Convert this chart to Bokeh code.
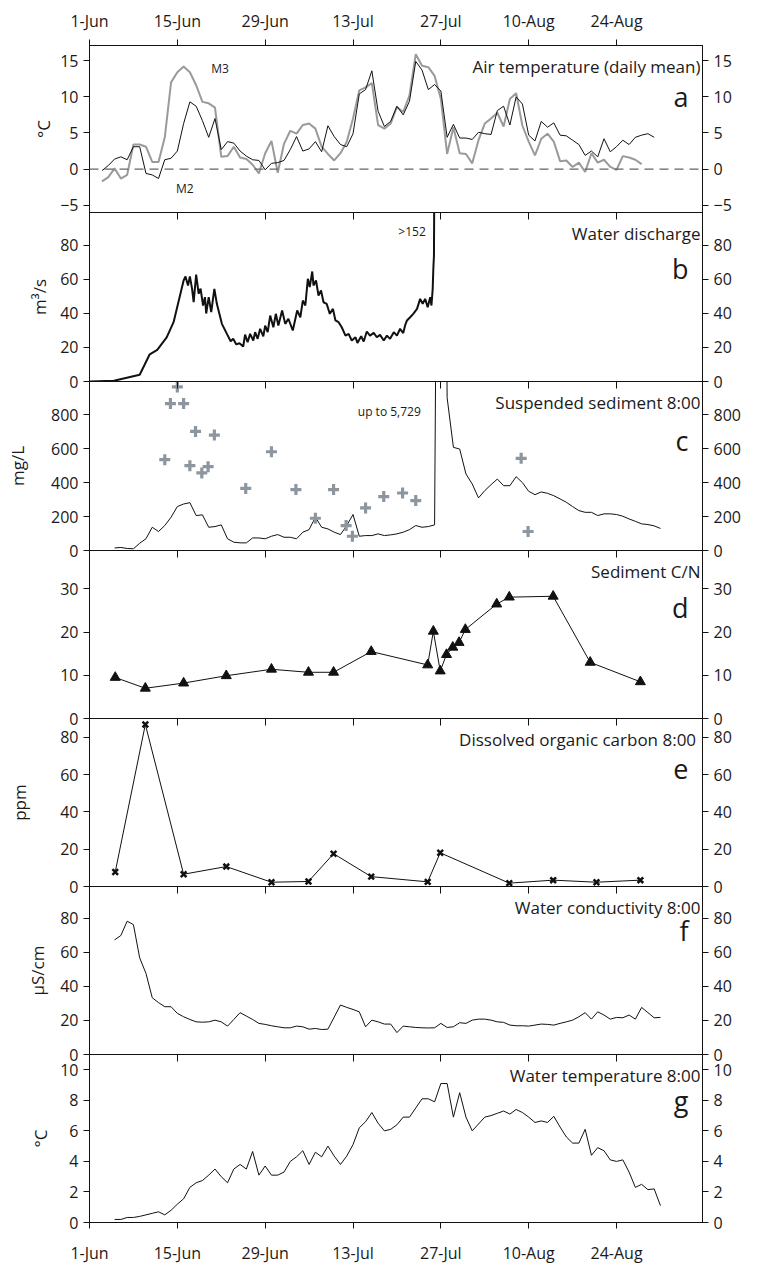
from bokeh.plotting import figure
from bokeh.layouts import column
from bokeh.models import Range1d, FixedTicker, LinearAxis, Span, Label
from bokeh.embed import file_html
from bokeh.resources import INLINE

FONT = "Open Sans"

# ---------------- data ----------------
date_ticks = [0, 14, 28, 42, 56, 70, 84]          # days since 1 June
date_labels = ["1-Jun", "15-Jun", "29-Jun", "13-Jul", "27-Jul", "10-Aug", "24-Aug"]

# (a) air temperature, daily mean
m2_days = list(range(2, 91))
m2_temp = [-0.2, 0.5, 1.4, 1.7, 1.3, 3.1, 3.1, -0.6, -0.8, -1.3, 1.3, 1.5, 2.5, 6.3, 9.3, 8.7,
           6.7, 4.4, 7.0, 2.7, 3.8, 3.6, 2.5, 1.8, 1.3, 1.2, -0.1, 0.8, 0.9, 1.2, 2.7, 4.5, 2.5,
           2.8, 3.8, 2.4, 6.0, 4.5, 3.4, 3.1, 4.9, 10.4, 11.0, 13.6, 8.0, 5.9, 6.6, 8.7, 7.5,
           9.4, 14.9, 13.7, 11.0, 11.7, 10.8, 4.4, 6.2, 4.3, 4.3, 4.1, 5.1, 4.9, 4.8, 8.1, 8.7,
           6.1, 10.0, 9.0, 4.7, 3.9, 6.6, 5.8, 6.4, 4.7, 4.6, 4.0, 3.4, 1.9, 2.5, 1.7, 4.2, 2.4,
           3.1, 4.0, 3.4, 4.4, 4.7, 4.9, 4.4]
m3_days = list(range(2, 89))
m3_temp = [-1.7, -1.1, 0.1, -1.3, -0.8, 3.4, 3.4, 3.1, 1.0, 1.0, 4.4, 12.0, 13.4, 14.2, 13.4,
           11.6, 9.3, 9.1, 8.5, 1.7, 1.8, 3.1, 1.6, 1.4, 0.6, -0.6, 2.2, 3.9, -0.5, 3.5, 5.3,
           4.9, 6.1, 6.3, 5.6, 3.1, 2.1, 1.2, 2.2, 3.8, 7.0, 10.9, 11.3, 11.9, 6.1, 5.6, 6.3,
           8.6, 7.9, 10.2, 15.9, 14.3, 14.1, 12.9, 9.7, 2.1, 5.8, 2.2, 2.1, 0.8, 4.0, 6.3, 7.0,
           7.8, 5.9, 9.7, 10.5, 6.0, 3.8, 1.9, 4.2, 4.9, 3.8, 1.1, 1.2, 0.3, 0.9, -0.4, 2.2,
           0.9, 1.3, 0.3, -0.1, 1.8, 1.6, 1.3, 0.7]

# (b) water discharge (m3/s)
q_days = [0, 3.9, 8.0, 9.6, 10.8, 12.3, 13.4, 15.0, 15.3, 15.7, 16.0, 16.35, 16.6, 17.0, 17.4,
          17.7, 18.1, 18.4, 18.6, 19.0, 19.4, 19.9, 20.3, 21.1, 21.9, 22.5, 22.9, 23.4, 23.9,
          24.5, 24.8, 25.2, 25.6, 26.1, 26.4, 26.8, 27.2, 27.7, 28.0, 28.4, 28.8, 29.3, 29.7,
          30.1, 30.7, 31.2, 31.7, 32.4, 33.1, 33.6, 34.0, 34.4, 34.8, 35.1, 35.5, 35.7, 36.1,
          36.5, 36.9, 37.3, 37.8, 38.3, 38.8, 39.2, 39.7, 40.2, 40.8, 41.3, 41.8, 42.4, 42.7,
          43.3, 43.7, 44.2, 44.7, 45.3, 45.8, 46.3, 46.9, 47.4, 47.9, 48.5, 49.0, 49.5, 50.0,
          50.3, 50.6, 51.1, 51.6, 52.2, 52.7, 53.1, 53.5, 53.9, 54.3, 54.5, 54.7, 54.8, 54.9,
          55.0]
q_vals = [0, 0.4, 4.0, 16.0, 18.6, 26.0, 34.9, 59.4, 61.8, 56.5, 61.8, 54.5, 46.7, 62.9, 51.6,
          54.6, 44.7, 49.6, 40.0, 49.6, 40.8, 54.5, 45.7, 33.9, 28.0, 23.7, 25.1, 21.8, 22.5,
          20.6, 27.6, 23.1, 28.0, 24.1, 29.0, 25.1, 31.0, 26.5, 32.9, 29.0, 38.8, 31.9, 39.8,
          32.9, 41.8, 33.9, 36.9, 30.0, 41.8, 37.8, 47.6, 44.7, 60.4, 55.5, 64.7, 56.5, 59.4,
          50.6, 53.5, 46.6, 45.7, 39.8, 42.7, 35.9, 34.9, 31.9, 27.0, 28.0, 24.1, 26.0, 22.7,
          26.6, 23.5, 29.4, 27.0, 28.6, 26.0, 27.4, 24.1, 27.0, 25.1, 29.0, 27.0, 31.0, 28.5,
          33.0, 35.9, 37.8, 39.8, 42.7, 48.6, 45.7, 48.6, 43.7, 49.6, 44.7, 54.5, 66.3, 74.0,
          152.0]

# (c) suspended sediment 8:00 (mg/L), M2 line and grey crosses
ss_days = list(range(4, 92))
ss_vals = [15, 18, 12, 10, 43, 69, 137, 112, 147, 196, 259, 274, 282, 206, 210, 137, 141, 151,
           69, 49, 45, 45, 74, 74, 69, 84, 94, 78, 78, 69, 108, 123, 196, 137, 127, 108, 94, 147,
           212, 84, 88, 88, 98, 88, 92, 98, 108, 123, 147, 137, 141, 151, 5729, 900, 608, 598,
           451, 392, 310, 353, 388, 421, 382, 382, 435, 400, 349, 329, 345, 337, 323, 304, 284,
           259, 235, 225, 225, 206, 216, 216, 212, 202, 186, 172, 157, 153, 145, 130]
ss2_days = [12, 12.9, 14, 15, 16, 16.9, 17.9, 18.9, 19.9, 24.9, 29, 32.9, 36, 38.9, 40.9, 41.9,
            44, 46.9, 49.9, 52, 68.8, 69.9]
ss2_vals = [535, 866, 964, 866, 500, 702, 457, 494, 680, 366, 582, 359, 190, 359, 147, 84,
            251, 318, 339, 294, 543, 112]

# (d) sediment C/N
cn_days = [4.1, 8.9, 15, 21.8, 29, 34.9, 38.9, 44.9, 53.9, 54.8, 55.9, 56.9, 57.9, 58.9, 59.9,
           64.9, 66.9, 73.9, 79.8, 87.8]
cn_vals = [9.5, 7.0, 8.2, 9.9, 11.4, 10.7, 10.7, 15.5, 12.4, 20.2, 11.0, 14.8, 16.5, 17.6,
           20.6, 26.5, 28.1, 28.3, 13.0, 8.5]

# (e) dissolved organic carbon 8:00 (ppm)
doc_days = [4.1, 8.9, 15, 21.8, 29, 34.9, 38.9, 44.9, 53.9, 55.9, 66.9, 73.9, 80.8, 87.8]
doc_vals = [7.8, 87.0, 6.6, 10.7, 2.3, 2.7, 17.6, 5.3, 2.5, 18.1, 1.8, 3.4, 2.3, 3.4]

# (f) water conductivity 8:00 (uS/cm)
ec_days = list(range(4, 39)) + list(range(40, 92))
ec_vals = [67.4, 70.0, 78.4, 76.4, 56.8, 47.7, 33.4, 30.5, 28.1, 28.1, 24.2, 22.2, 20.6, 19.2,
           19.0, 19.2, 20.2, 19.2, 16.7, 20.6, 24.6, 22.6, 20.6, 18.3, 17.7, 16.9, 16.3, 15.7,
           15.7, 16.7, 16.3, 14.9, 15.3, 14.7, 14.9,
           29.1, 27.7, 26.5, 25.1, 16.3, 20.2, 19.2, 17.9, 17.9, 12.9, 16.7, 16.3, 15.9, 15.7,
           15.6, 15.7, 18.3, 15.9, 16.3, 18.7, 18.3, 20.2, 20.8, 20.8, 20.2, 19.2, 18.9, 17.3,
           16.9, 16.9, 16.7, 17.3, 17.9, 17.7, 17.3, 18.3, 19.2, 20.2, 22.2, 24.6, 20.8, 25.1,
           23.2, 20.8, 21.8, 21.6, 23.2, 20.8, 27.7, 24.6, 21.6, 21.8]

# (g) water temperature 8:00 (deg C)
wt_days = list(range(4, 92))
wt_vals = [0.2, 0.2, 0.33, 0.33, 0.4, 0.5, 0.6, 0.7, 0.5, 0.8, 1.2, 1.55, 2.3, 2.6, 2.75, 3.1,
           3.5, 3.0, 2.6, 3.5, 3.8, 3.5, 4.65, 3.1, 3.7, 3.1, 3.1, 3.3, 4.0, 4.3, 4.7, 3.8, 4.6,
           4.3, 5.0, 4.35, 3.8, 4.35, 5.1, 6.2, 6.6, 7.2, 6.5, 6.0, 6.1, 6.4, 6.9, 6.9, 7.5, 8.1,
           8.1, 7.9, 9.1, 9.1, 6.9, 8.5, 6.9, 6.0, 6.45, 6.9, 7.0, 7.15, 7.3, 7.1, 7.4, 7.2, 6.9,
           6.55, 6.65, 6.55, 6.95, 6.25, 5.6, 5.2, 5.2, 6.1, 4.4, 4.9, 4.7, 4.1, 4.0, 4.1, 3.3,
           2.3, 2.5, 2.15, 2.2, 1.1]

# ---------------- layout ----------------
x_range = Range1d(0, 97.7)
FRAME_W = 613
PAD = 12          # transparent border that overlaps the neighbouring panel


def axis_style(ax):
    ax.axis_line_color = "#111111"
    ax.major_tick_line_color = "#111111"
    ax.minor_tick_line_color = None
    ax.major_label_text_font = FONT
    ax.major_label_text_font_size = "16px"
    ax.major_label_text_color = "#1a1a1a"
    ax.axis_label_text_font = FONT
    ax.axis_label_text_font_size = "17px"
    ax.axis_label_text_font_style = "normal"
    ax.axis_label_text_color = "#1a1a1a"


def panel(h, yr, yticks, ylabel, lab_off, title, letter, letter_dy, top=False, bottom=False):
    p = figure(frame_width=FRAME_W, frame_height=h, x_range=x_range,
               y_range=Range1d(*yr), output_backend="svg", toolbar_location=None,
               x_axis_location=None, y_axis_location=None,
               min_border_left=89, min_border_right=58,
               min_border_top=45 if top else PAD, min_border_bottom=41 if bottom else PAD,
               background_fill_color=None, border_fill_color=None)
    if not top:
        p.margin = (-2 * PAD, 0, 0, 0)
    p.grid.grid_line_color = None
    p.outline_line_color = "#111111"
    p.outline_line_width = 1

    left = LinearAxis(ticker=FixedTicker(ticks=yticks), axis_label=ylabel)
    axis_style(left)
    left.major_tick_out = 6
    left.major_tick_in = 0
    left.major_label_standoff = 5
    left.axis_label_standoff = lab_off
    p.add_layout(left, "left")

    right = LinearAxis(ticker=FixedTicker(ticks=yticks))
    axis_style(right)
    right.major_tick_out = 6
    right.major_tick_in = 0
    right.major_label_standoff = 5
    p.add_layout(right, "right")

    up = LinearAxis(ticker=FixedTicker(ticks=date_ticks),
                    major_label_overrides=dict(zip(date_ticks, date_labels)))
    axis_style(up)
    if top:
        up.major_tick_out = 6
        up.major_tick_in = 0
        up.major_label_standoff = 8
    else:
        up.major_tick_out = 0
        up.major_tick_in = 7
        up.major_label_standoff = 0
        up.major_label_text_font_size = "1px"
        up.major_label_text_color = None
    p.add_layout(up, "above")

    if bottom:
        dn = LinearAxis(ticker=FixedTicker(ticks=date_ticks),
                        major_label_overrides=dict(zip(date_ticks, date_labels)))
        axis_style(dn)
        dn.major_tick_out = 6
        dn.major_tick_in = 0
        dn.major_label_standoff = 13
        p.add_layout(dn, "below")

    p.add_layout(Label(x=FRAME_W - 2, y=h - 21, x_units="screen", y_units="screen",
                       text=title, text_align="right", text_baseline="middle",
                       text_font=FONT, text_font_size="17px", text_color="#1a1a1a"))
    p.add_layout(Label(x=FRAME_W - 14, y=h - letter_dy, x_units="screen", y_units="screen",
                       text=letter, text_align="right", text_baseline="middle",
                       text_font=FONT, text_font_size="27px", text_color="#1a1a1a"))
    return p


# (a)
pa = panel(167, (-6, 17.1), [-5, 0, 5, 10, 15], "°C", 2, "Air temperature (daily mean)", "a",
           51, top=True)
pa.add_layout(Span(location=0, dimension="width", line_color="#666666", line_width=1.2,
                   line_dash="9 6"))
pa.line(m3_days, m3_temp, line_color="#9a9a9a", line_width=2)
pa.line(m2_days, m2_temp, line_color="#111111", line_width=1)
pa.add_layout(Label(x=20.8, y=13.9, text="M3", text_align="center", text_baseline="middle",
                    text_font=FONT, text_font_size="12px", text_color="#1a1a1a"))
pa.add_layout(Label(x=15.2, y=-2.7, text="M2", text_align="center", text_baseline="middle",
                    text_font=FONT, text_font_size="12px", text_color="#1a1a1a"))

# (b)
pb = panel(169, (0, 99.4), [0, 20, 40, 60, 80], "m³/s", 6, "Water discharge", "b", 56)
pb.line(q_days, q_vals, line_color="#111111", line_width=2)
pb.add_layout(Label(x=53.6, y=88, text=">152", text_align="right", text_baseline="middle",
                    text_font=FONT, text_font_size="12px", text_color="#1a1a1a"))

# (c)
pc = panel(169, (0, 996), [0, 200, 400, 600, 800], "mg/L", 19, "Suspended sediment 8:00",
           "c", 59)
pc.line(ss_days, ss_vals, line_color="#111111", line_width=1)
pc.scatter(ss2_days, ss2_vals, marker="cross", size=11, line_width=3.2,
           line_color="#8d969e")
pc.add_layout(Label(x=52.8, y=818, text="up to 5,729", text_align="right",
                    text_baseline="middle", text_font=FONT, text_font_size="12px",
                    text_color="#1a1a1a"))

# (d)
pd_ = panel(168, (0, 38.9), [0, 10, 20, 30], "", 5, "Sediment C/N", "d", 57)
pd_.line(cn_days, cn_vals, line_color="#111111", line_width=1)
pd_.scatter(cn_days, cn_vals, marker="triangle", size=10, fill_color="#111111",
            line_color="#111111")

# (e)
pe = panel(168, (0, 90.2), [0, 20, 40, 60, 80], "ppm", 26, "Dissolved organic carbon  8:00",
           "e", 50)
pe.line(doc_days, doc_vals, line_color="#111111", line_width=1)
pe.scatter(doc_days, doc_vals, marker="x", size=8, line_width=2.5, line_color="#111111")

# (f)
pf = panel(168, (0, 98.8), [0, 20, 40, 60, 80], "µS/cm", 8, "Water conductivity 8:00", "f", 44)
pf.line(ec_days, ec_vals, line_color="#111111", line_width=1)

# (g)
pg = panel(168, (0, 11.0), [0, 2, 4, 6, 8, 10], "°C", 5, "Water temperature 8:00", "g", 46,
           bottom=True)
pg.line(wt_days, wt_vals, line_color="#111111", line_width=1)

layout = column(pa, pb, pc, pd_, pe, pf, pg, spacing=0)

open("out.html", "w").write(file_html(layout, INLINE))
